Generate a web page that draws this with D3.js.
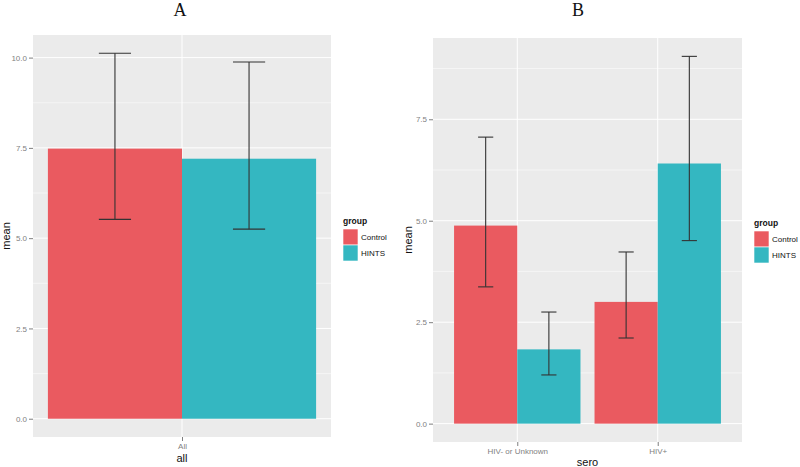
<!DOCTYPE html>
<html><head><meta charset="utf-8">
<script src="https://cdn.jsdelivr.net/npm/d3@7"></script>
<style>body{margin:0;background:#fff}svg{display:block}</style>
</head><body><svg id="c" width="800" height="467"></svg>
<script>
const groups = ["Control", "HINTS"];
const colors = ["#EA5A60", "#34B7C1"];

const catsA = ["All"];
const meanA = { Control: [7.48], HINTS: [7.20] };
const lowA  = { Control: [5.52], HINTS: [5.25] };
const highA = { Control: [10.12], HINTS: [9.88] };
const ticksA = [0, 2.5, 5, 7.5, 10];

const catsB = ["HIV- or Unknown", "HIV+"];
const meanB = { Control: [4.88, 3.00], HINTS: [1.83, 6.41] };
const lowB  = { Control: [3.37, 2.11], HINTS: [1.20, 4.51] };
const highB = { Control: [7.06, 4.23], HINTS: [2.75, 9.05] };
const ticksB = [0, 2.5, 5, 7.5];

const svg = d3.select("#c");
const sans = "Liberation Sans, Arial, sans-serif";

function panel(o) {
  const g = svg.append("g");
  const n = o.cats.length;
  const x = d3.scaleLinear().domain([1 - o.xexp, n + o.xexp]).range([o.left, o.right]);
  const maxV = d3.max(groups, k => d3.max(o.high[k]));
  const span = maxV - 0;
  const y = d3.scaleLinear().domain([0 - span * 0.05, maxV + span * 0.05]).range([o.bottom, o.top]);

  g.append("rect").attr("x", o.left).attr("y", o.top)
    .attr("width", o.right - o.left).attr("height", o.bottom - o.top).attr("fill", "#EBEBEB");

  // minor grid
  const minors = [];
  for (let i = 0; i < o.ticks.length - 1; i++) minors.push((o.ticks[i] + o.ticks[i + 1]) / 2);
  const lastT = o.ticks[o.ticks.length - 1];
  if (lastT + 1.25 < y.domain()[1]) minors.push(lastT + 1.25);
  g.selectAll(".mn").data(minors).enter().append("line")
    .attr("x1", o.left).attr("x2", o.right).attr("y1", d => y(d)).attr("y2", d => y(d))
    .attr("stroke", "#F5F5F5").attr("stroke-width", 1);
  // major grid
  g.selectAll(".mj").data(o.ticks).enter().append("line")
    .attr("x1", o.left).attr("x2", o.right).attr("y1", d => y(d)).attr("y2", d => y(d))
    .attr("stroke", "#FFFFFF").attr("stroke-width", 1);
  g.selectAll(".vx").data(o.cats).enter().append("line")
    .attr("x1", (d, i) => x(i + 1)).attr("x2", (d, i) => x(i + 1))
    .attr("y1", o.top).attr("y2", o.bottom).attr("stroke", "#FFFFFF").attr("stroke-width", 1);

  const bw = 0.45;
  groups.forEach((k, gi) => {
    const off = (gi - 0.5) * bw;
    o.cats.forEach((c, i) => {
      const cx = i + 1 + off;
      g.append("rect")
        .attr("x", x(cx - bw / 2)).attr("width", x(cx + bw / 2) - x(cx - bw / 2))
        .attr("y", y(o.mean[k][i])).attr("height", y(0) - y(o.mean[k][i]))
        .attr("fill", colors[gi]);
    });
  });
  groups.forEach((k, gi) => {
    const off = (gi - 0.5) * bw;
    o.cats.forEach((c, i) => {
      const cx = i + 1 + off;
      const px = x(cx);
      const hw = (x(cx + bw / 2) - x(cx - bw / 2)) * 0.12;
      const eg = g.append("g").attr("stroke", "#333").attr("stroke-width", 1.1);
      eg.append("line").attr("x1", px).attr("x2", px).attr("y1", y(o.low[k][i])).attr("y2", y(o.high[k][i]));
      eg.append("line").attr("x1", px - hw).attr("x2", px + hw).attr("y1", y(o.low[k][i])).attr("y2", y(o.low[k][i]));
      eg.append("line").attr("x1", px - hw).attr("x2", px + hw).attr("y1", y(o.high[k][i])).attr("y2", y(o.high[k][i]));
    });
  });

  // y axis
  const ya = d3.axisLeft(y).tickValues(o.ticks).tickFormat(d3.format(".1f")).tickSize(4).tickPadding(2);
  const yg = g.append("g").attr("transform", `translate(${o.left},0)`).call(ya);
  yg.select(".domain").remove();
  yg.selectAll("line").attr("stroke", "#7F7F7F");
  yg.selectAll("text").attr("fill", "#7F7F7F").attr("font-family", sans).attr("font-size", 8);

  const xa = d3.axisBottom(x).tickValues(o.cats.map((d, i) => i + 1)).tickFormat((d) => o.cats[d - 1]).tickSize(4).tickPadding(2);
  const xg = g.append("g").attr("transform", `translate(0,${o.bottom})`).call(xa);
  xg.select(".domain").remove();
  xg.selectAll("line").attr("stroke", "#7F7F7F");
  xg.selectAll("text").attr("fill", "#7F7F7F").attr("font-family", sans).attr("font-size", 8);

  g.append("text").attr("x", (o.left + o.right) / 2).attr("y", o.xtitleY).attr("text-anchor", "middle")
    .attr("font-family", sans).attr("font-size", 11).attr("fill", "#111").text(o.xtitle);
  g.append("text").attr("transform", `translate(${o.ytitleX},${(o.top + o.bottom) / 2}) rotate(-90)`)
    .attr("text-anchor", "middle").attr("font-family", sans).attr("font-size", 11).attr("fill", "#111").text("mean");
  g.append("text").attr("x", o.titleX).attr("y", 16).attr("text-anchor", "middle")
    .attr("font-family", "Liberation Serif, Times New Roman, serif").attr("font-size", 18).attr("fill", "#111").text(o.title);

  // legend
  const lg = g.append("g").attr("transform", `translate(${o.legX},${o.legY})`);
  lg.append("text").attr("x", 0).attr("y", 0).attr("font-family", sans).attr("font-size", 8.5)
    .attr("font-weight", "bold").attr("fill", "#111").text("group");
  groups.forEach((k, gi) => {
    lg.append("rect").attr("x", 0).attr("y", 5 + gi * 16).attr("width", 15).attr("height", 16)
      .attr("fill", colors[gi]).attr("stroke", "#fff").attr("stroke-width", 0.6);
    lg.append("text").attr("x", 18).attr("y", 16 + gi * 16).attr("font-family", sans).attr("font-size", 8)
      .attr("fill", "#111").text(k);
  });
}

panel({ cats: catsA, mean: meanA, low: lowA, high: highA, ticks: ticksA,
  left: 33, right: 331, top: 35, bottom: 437, xexp: 0.5,
  xtitle: "all", xtitleY: 462, ytitleX: 10, title: "A", titleX: 180, legX: 343, legY: 224 });
panel({ cats: catsB, mean: meanB, low: lowB, high: highB, ticks: ticksB,
  left: 433, right: 742, top: 38, bottom: 442, xexp: 0.6,
  xtitle: "sero", xtitleY: 466, ytitleX: 412, title: "B", titleX: 578, legX: 754, legY: 226 });
</script></body></html>
